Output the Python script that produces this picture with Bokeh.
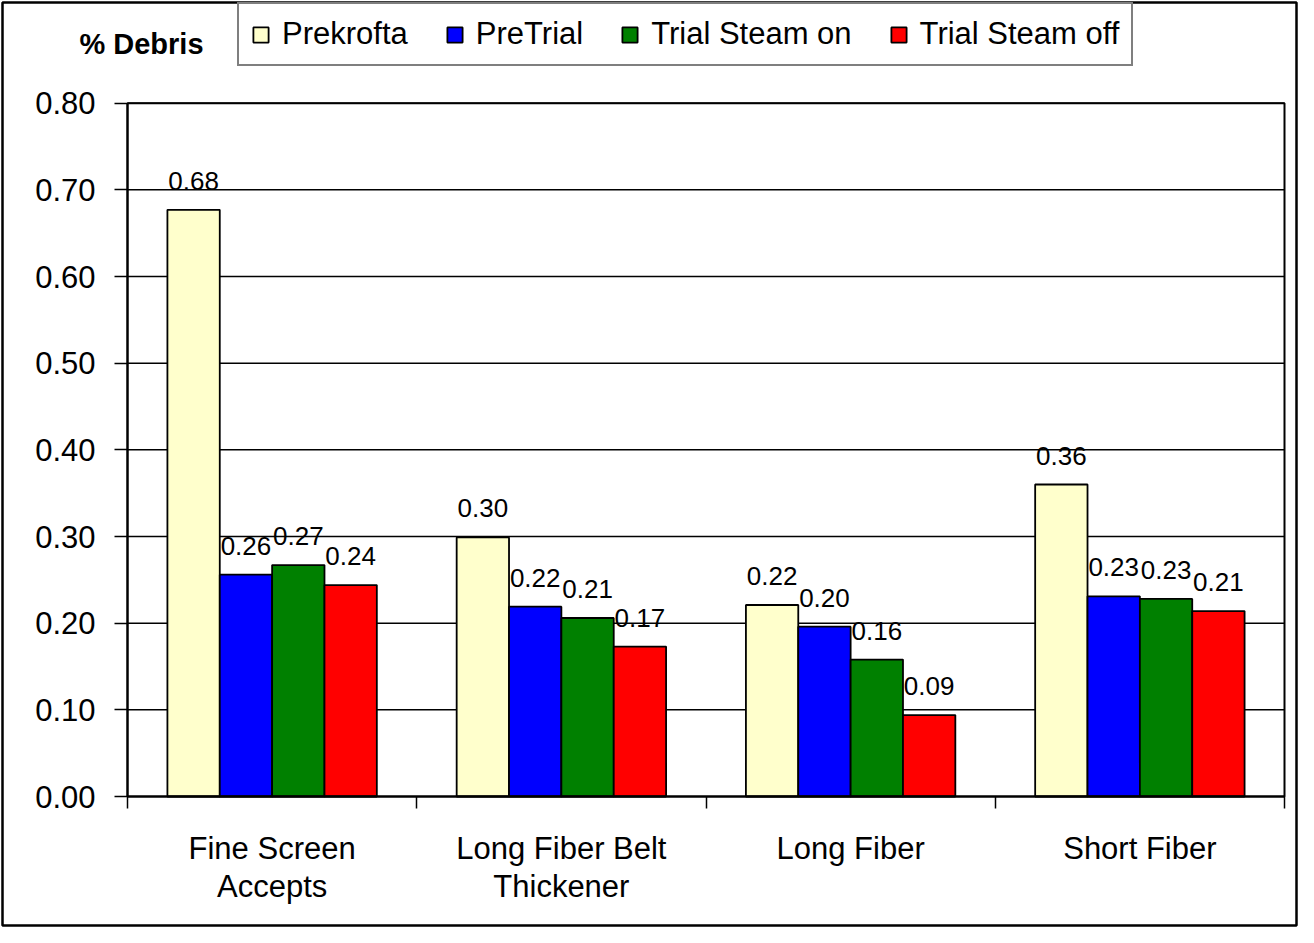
from bokeh.plotting import figure
from bokeh.models import Range1d, FixedTicker, Legend, LegendItem, Label, NumeralTickFormatter
from bokeh.core.properties import value
from bokeh.embed import file_html
from bokeh.resources import INLINE

categories = ["Fine Screen\nAccepts", "Long Fiber Belt\nThickener", "Long Fiber", "Short Fiber"]
series = ["Prekrofta", "PreTrial", "Trial Steam on", "Trial Steam off"]
prekrofta = [0.677, 0.299, 0.221, 0.360]
pretrial = [0.256, 0.219, 0.196, 0.231]
steam_on = [0.267, 0.206, 0.158, 0.228]
steam_off = [0.244, 0.173, 0.094, 0.214]
colors = ["#FFFFCC", "#0000FF", "#008000", "#FF0000"]
y_ticks = [0.0, 0.1, 0.2, 0.3, 0.4, 0.5, 0.6, 0.7, 0.8]
y_title = "% Debris"

FONT = "Liberation Sans"

# ---- layout (pixels inside the figure) ----
FW, FH = 1294, 923          # frame = whole chart box (outer border)
PL, PR = 125, 1282          # plot area left / right (frame px)
PT, PB = 100.7, 794         # plot area top (0.80) / bottom (0.00) (frame px)
n = len(categories)
ymax_v, ymin_v = y_ticks[-1], y_ticks[0]
kx = (PR - PL) / n
ky = (PB - PT) / (ymax_v - ymin_v)
x_range = Range1d(-PL / kx, n + (FW - PR) / kx)
y_range = Range1d(ymin_v - (FH - PB) / ky, ymax_v + PT / ky)

p = figure(frame_width=FW, frame_height=FH,
           min_border_left=2, min_border_right=2, min_border_top=2, min_border_bottom=2,
           x_range=x_range, y_range=y_range,
           output_backend="svg", toolbar_location=None)
p.background_fill_color = "white"
p.border_fill_color = "white"
p.outline_line_color = "black"
p.outline_line_width = 2.5
p.xgrid.visible = False
p.ygrid.visible = False

# x axis (at y = 0)
centers = [i + 0.5 for i in range(n)]
p.xaxis.fixed_location = ymin_v
p.xaxis.bounds = (0, n)
p.xaxis.ticker = FixedTicker(ticks=centers, minor_ticks=list(range(n + 1)))
p.xaxis.major_label_overrides = {c: lab for c, lab in zip(centers, categories)}
p.xaxis.major_tick_out = 0
p.xaxis.major_tick_in = 0
p.xaxis.minor_tick_out = 12
p.xaxis.minor_tick_in = 0
p.xaxis.minor_tick_line_color = "black"
p.xaxis.minor_tick_line_width = 1.5
p.xaxis.axis_line_color = "black"
p.xaxis.axis_line_width = 2
p.xaxis.major_label_standoff = 22
p.xaxis.major_label_text_font = FONT
p.xaxis.major_label_text_font_size = "31px"
p.xaxis.major_label_text_color = "black"
p.xaxis.major_label_text_line_height = 1.1

# y axis (at x = 0)
p.yaxis.fixed_location = 0
p.yaxis.bounds = (ymin_v, ymax_v)
p.yaxis.ticker = FixedTicker(ticks=y_ticks)
p.yaxis.formatter = NumeralTickFormatter(format="0.00")
p.yaxis.major_tick_out = 13
p.yaxis.major_tick_in = 0
p.yaxis.minor_tick_line_color = None
p.yaxis.major_tick_line_color = "black"
p.yaxis.major_tick_line_width = 1.5
p.yaxis.axis_line_color = "black"
p.yaxis.axis_line_width = 2
p.yaxis.major_label_standoff = 19
p.yaxis.major_label_text_font = FONT
p.yaxis.major_label_text_font_size = "31px"
p.yaxis.major_label_text_color = "black"

# horizontal grid lines across the plot area
gy = y_ticks[1:]
p.segment(x0=[0] * len(gy), x1=[n] * len(gy), y0=gy, y1=gy, line_color="black", line_width=1.5)

# bars
data = [prekrofta, pretrial, steam_on, steam_off]
w = 0.181
items = []
for j, (name, vals, col) in enumerate(zip(series, data, colors)):
    xs = [c + (j - 1.5) * w for c in centers]
    r = p.vbar(x=xs, top=vals, width=w, fill_color=col, line_color="black", line_width=1.8)
    items.append(LegendItem(label=name, renderers=[r]))
    p.text(x=xs, y=vals, text=[f"{v:.2f}" for v in vals], text_align="center",
           text_baseline="alphabetic", y_offset=-29, text_font=value(FONT),
           text_font_size="26px", text_color="black")

# plot-area box
p.quad(left=[0], right=[n], bottom=[ymin_v], top=[ymax_v], fill_color=None,
       line_color="black", line_width=2)

legend = Legend(items=items, orientation="horizontal", location=(235, 859),
                glyph_width=19, glyph_height=19, label_standoff=12, spacing=37,
                padding=12, margin=0, label_text_font=FONT, label_text_font_size="31px",
                label_text_color="black", label_height=28,
                border_line_color="black", border_line_width=2,
                background_fill_color="white", background_fill_alpha=1)
p.add_layout(legend)

p.add_layout(Label(x=139, y=882, x_units="screen", y_units="screen", text=y_title,
                   text_align="center", text_baseline="alphabetic", text_font=FONT,
                   text_font_size="29px", text_font_style="bold", text_color="black"))

open("out.html", "w").write(file_html(p, INLINE))
